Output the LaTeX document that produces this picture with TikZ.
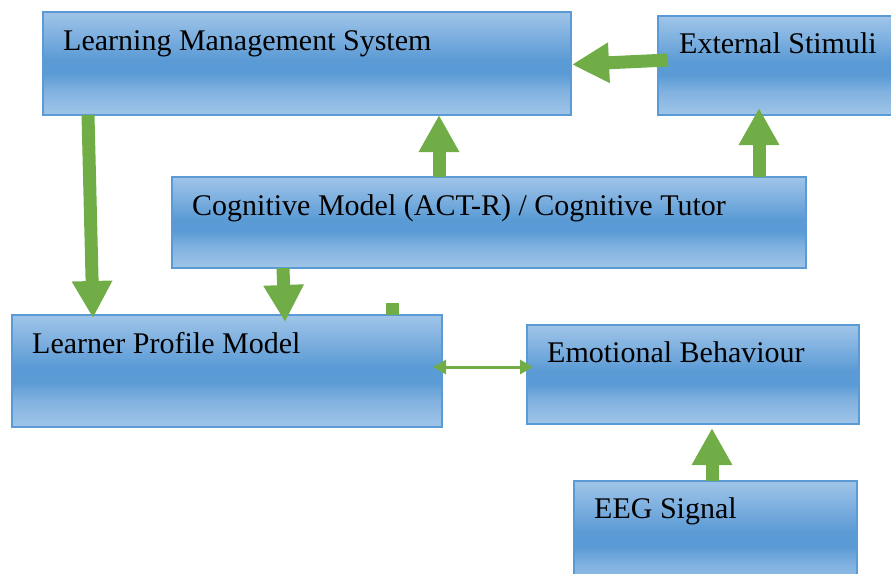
\documentclass[tikz,border=0pt]{standalone}
\usepackage{fontspec}
\setmainfont{Liberation Serif}
\usetikzlibrary{arrows.meta,positioning}
\definecolor{boxlight}{HTML}{A0C5E8}
\definecolor{boxsoft}{HTML}{80B1E0}
\definecolor{boxmid}{HTML}{5B9BD5}
\definecolor{arrowgreen}{HTML}{70AD47}
\pgfdeclareverticalshading{boxfill}{100bp}{color(0bp)=(boxlight); color(25bp)=(boxlight);
  color(37bp)=(boxsoft); color(45bp)=(boxmid); color(52bp)=(boxmid);
  color(64bp)=(boxsoft); color(75bp)=(boxlight); color(100bp)=(boxlight)}

\begin{document}
\begin{tikzpicture}[x=1pt,y=-1pt,
  box/.style={draw=boxmid,line width=2pt,shading=boxfill,outer sep=0pt,inner sep=0pt,anchor=north west},
  txt/.style={anchor=base west,inner sep=0pt,font=\fontsize{30}{36}\selectfont},
  blk/.style={draw=arrowgreen,line width=13pt,-{Triangle[width=38pt,length=37pt]}},
  stubline/.style={draw=arrowgreen,line width=13pt},
  thinarrow/.style={draw=arrowgreen,line width=3pt,{Triangle[width=14pt,length=13pt]}-{Triangle[width=14pt,length=13pt]}}]
\clip (0,0) rectangle (891,573);
% boxes
\node [box,minimum width=528pt,minimum height=103pt] (lms) at (43,12) {};
\node [box,minimum width=250pt,minimum height=99pt] (ext) at (658,16) {};
\node [box,minimum width=634pt,minimum height=91pt] (cog) at (172,177) {};
\node [box,minimum width=430pt,minimum height=112pt] (lp) at (12,315) {};
\node [box,minimum width=332pt,minimum height=99pt] (emo) at (527,325) {};
\node [box,minimum width=283pt,minimum height=110pt] (eeg) at (574,481) {};
% labels
\node [txt] (lmstxt) at ([shift={(20,38)}]lms.north west) {Learning Management System};
\node [txt] (exttxt) at ([shift={(21,37)}]ext.north west) {External Stimuli};
\node [txt] (cogtxt) at ([shift={(20,38)}]cog.north west) {Cognitive Model (ACT-R) / Cognitive Tutor};
\node [txt] (lptxt) at ([shift={(20,38)}]lp.north west) {Learner Profile Model};
\node [txt] (emotxt) at ([shift={(20,37)}]emo.north west) {Emotional Behaviour};
\node [txt] (eegtxt) at ([shift={(20,37)}]eeg.north west) {EEG Signal};
% arrows
\coordinate (exttip) at ([yshift=7pt]ext.south);
\coordinate (stub) at ([shift={(380,-12)}]lp.north west);
\draw [blk] ([shift={(10,-5.5)}]ext.west) -- ([shift={(1,1)}]lms.east);
\draw [blk] ([xshift=-50pt]cog.north) -- ([xshift=-50pt]cog.north |- lms.south);
\draw [blk] ([xshift=270pt]cog.north) -- ([xshift=270pt]cog.north |- exttip);
\draw [blk] ([xshift=45pt]lms.south west) -- ([shift={(81,3)}]lp.north west);
\draw [blk] ([xshift=111pt]cog.south west) -- ([shift={(273,7)}]lp.north west);
\draw [stubline] (stub) -- (stub |- lp.north);
\draw [thinarrow] ([shift={(-9,-4)}]lp.east) -- ([shift={(6,-7.5)}]emo.west);
\draw [blk,shorten >=4pt] ([xshift=138pt]eeg.north west) -- ([xshift=138pt]eeg.north west |- emo.south);
\end{tikzpicture}
\end{document}
